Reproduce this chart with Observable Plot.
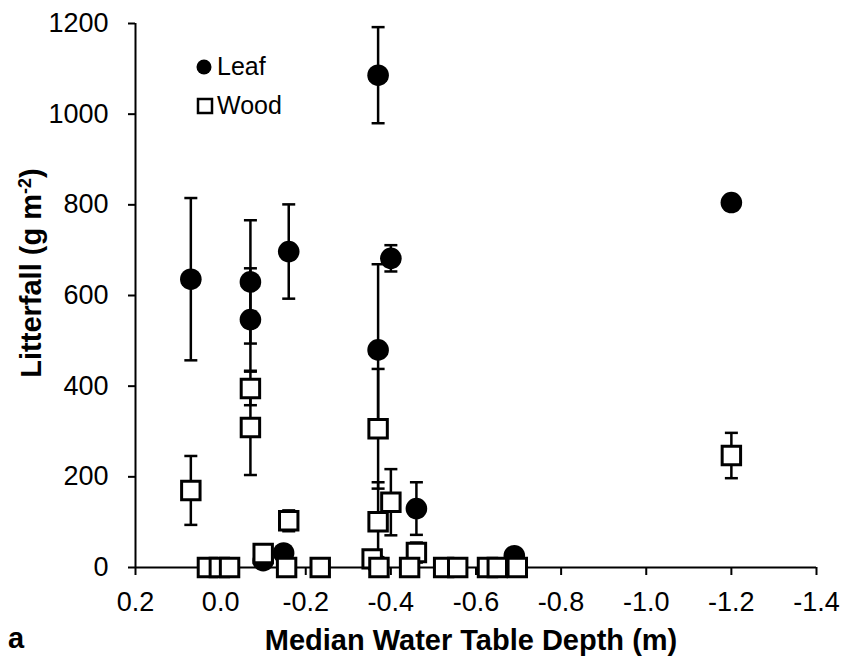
<!DOCTYPE html>
<html>
<head>
<meta charset="utf-8">
<script src="https://cdn.jsdelivr.net/npm/d3@7"></script>
<script src="https://cdn.jsdelivr.net/npm/@observablehq/plot@0.6"></script>
<style>
  html, body { margin: 0; padding: 0; background: #fff; }
  #wrap { position: relative; width: 844px; height: 661px; font-family: "Liberation Sans", Arial, sans-serif; color: #000; }
  .ov { position: absolute; white-space: nowrap; }
  .lab { font-weight: bold; font-size: 29px; }
  .leg { font-size: 25px; }
</style>
</head>
<body>
<div id="wrap"></div>
<script>
// Leaf litterfall (filled circles)
const leafX   = [0.07, -0.07, -0.07, -0.16, -0.37, -0.37, -0.40, -0.46, -1.20, -0.69, -0.10, -0.148, -0.37];
const leafY   = [636, 630, 547, 697, 480, 1086, 682, 130, 805, 26, 15, 32, 5];
const leafErr = [179, 136, 113, 104, 189, 106, 29, 58, 0, 0, 0, 0, 0];

// Wood litterfall (open squares)
const woodX   = [0.07, -0.07, -0.07, -0.16, -0.10, -0.37, -0.37, -0.40, -0.356, -0.372, -0.46, -0.444, -1.20,
                 0.031, 0.003, -0.021, -0.155, -0.234, -0.524, -0.557, -0.627, -0.65, -0.697];
const woodY   = [170, 395, 309, 103, 31, 306, 101, 144, 19, 0, 33, 0, 247,
                 0, 0, 0, 0, 0, 0, 0, 0, 0, 0];
const woodErr = [76, 37, 105, 23, 8, 132, 87, 73, 0, 0, 22, 0, 50,
                 0, 0, 0, 0, 0, 0, 0, 0, 0, 0];

// Axis ticks
const xTicks = [0.2, 0.0, -0.2, -0.4, -0.6, -0.8, -1.0, -1.2, -1.4];
const yTicks = [0, 200, 400, 600, 800, 1000, 1200];

const leaf = leafX.map((x, i) => ({x, y: leafY[i], e: leafErr[i]}));
const wood = woodX.map((x, i) => ({x, y: woodY[i], e: woodErr[i]}));
const leafE = leaf.filter(d => d.e > 0);
const woodE = wood.filter(d => d.e > 0);

const capSymbol = {
  draw(context, size) {
    const w = Math.sqrt(size / Math.PI);
    context.moveTo(-w, 0);
    context.lineTo(w, 0);
  }
};

function errMarks(data) {
  return [
    Plot.ruleX(data, {x: "x", y1: d => d.y - d.e, y2: d => d.y + d.e, stroke: "#000", strokeWidth: 2.5}),
    Plot.dot(data, {x: "x", y: d => d.y + d.e, symbol: capSymbol, r: 6.5, stroke: "#000", strokeWidth: 2.5, fill: "none"}),
    Plot.dot(data, {x: "x", y: d => d.y - d.e, symbol: capSymbol, r: 6.5, stroke: "#000", strokeWidth: 2.5, fill: "none"})
  ];
}

const chart = Plot.plot({
  width: 844,
  height: 661,
  marginLeft: 135,
  marginRight: 28,
  marginTop: 23,
  marginBottom: 94,
  style: {fontFamily: "'Liberation Sans', Arial, sans-serif", fontSize: "27px", color: "#000", background: "#fff"},
  x: {domain: [0.2, -1.4]},
  y: {domain: [0, 1200]},
  marks: [
    Plot.axisX({ticks: xTicks, tickFormat: d => d.toFixed(1), tickSize: 8, tickPadding: 16, strokeWidth: 2, label: null, fontSize: 27}),
    Plot.axisY({ticks: yTicks, tickFormat: d => String(d), tickSize: 7, tickPadding: 20, strokeWidth: 2, label: null, fontSize: 27}),
    Plot.ruleY([0], {stroke: "#000", strokeWidth: 2}),
    Plot.ruleX([0.2], {stroke: "#000", strokeWidth: 2}),
    ...errMarks(leafE),
    Plot.dot(leaf, {x: "x", y: "y", r: 10.8, fill: "#000", stroke: "none"}),
    ...errMarks(woodE),
    Plot.dot(wood, {x: "x", y: "y", symbol: "square", r: 10.4, fill: "#fff", stroke: "#000", strokeWidth: 3})
  ]
});

const wrap = document.getElementById("wrap");
wrap.appendChild(chart);

function overlay(html, cls, style) {
  const d = document.createElement("div");
  d.className = "ov " + cls;
  d.innerHTML = html;
  Object.assign(d.style, style);
  wrap.appendChild(d);
  return d;
}

// Axis titles and panel letter
overlay("Median Water Table Depth (m)", "lab", {left: "471px", top: "640px", transform: "translate(-50%,-50%)"});
overlay("a", "lab", {left: "16px", top: "638px", transform: "translate(-50%,-50%)"});
overlay("Litterfall (g m<sup style='font-size:18px;vertical-align:10px'>-2</sup>)", "lab",
        {left: "31px", top: "273px", transform: "translate(-50%,-50%) rotate(-90deg)"});

// Legend
overlay("<svg width='18' height='18'><circle cx='9' cy='9' r='7.5' fill='#000'/></svg>", "", {left: "195px", top: "58px"});
overlay("Leaf", "leg", {left: "217px", top: "52px"});
overlay("<svg width='18' height='18'><rect x='2' y='2' width='14' height='14' fill='#fff' stroke='#000' stroke-width='2.5'/></svg>", "", {left: "196px", top: "97px"});
overlay("Wood", "leg", {left: "217px", top: "91px"});
</script>
</body>
</html>
